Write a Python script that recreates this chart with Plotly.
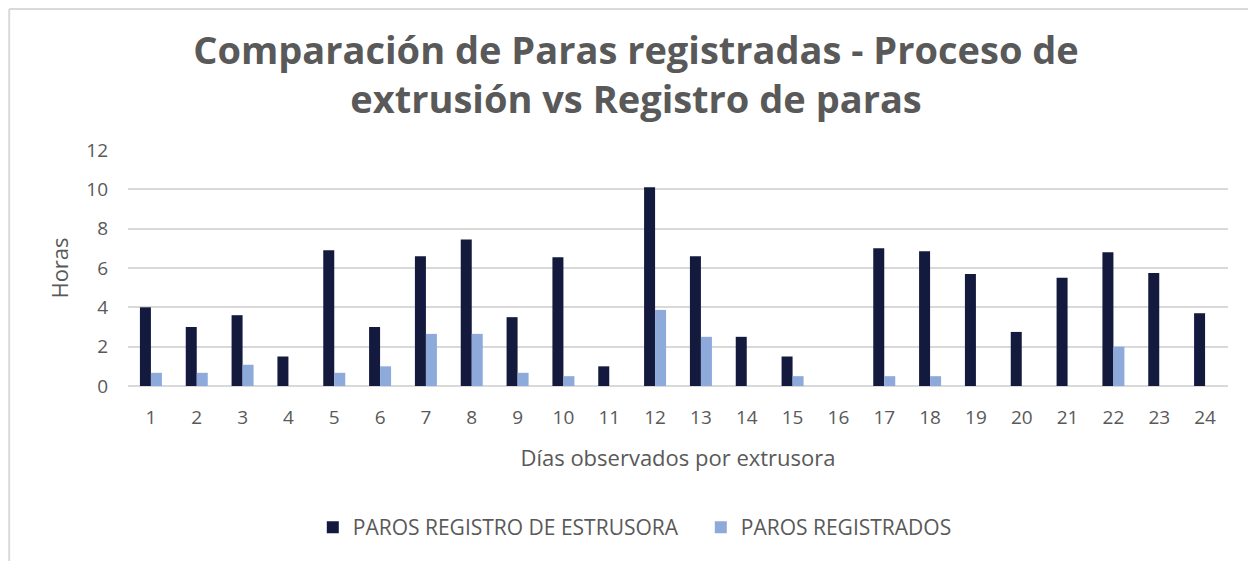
import plotly.graph_objects as go

# Datos
dias = [str(d) for d in range(1, 25)]
paros_extrusora = [4.0, 3.0, 3.6, 1.5, 6.9, 3.0, 6.6, 7.45, 3.5, 6.55, 1.0, 10.1,
                   6.6, 2.5, 1.5, 0, 7.0, 6.85, 5.7, 2.75, 5.5, 6.8, 5.75, 3.7]
paros_registrados = [0.67, 0.67, 1.08, 0, 0.67, 1.0, 2.65, 2.65, 0.67, 0.5, 0, 3.87,
                     2.5, 0, 0.5, 0, 0.5, 0.5, 0, 0, 0, 2.0, 0, 0]

gray = "#595959"
font_family = "Open Sans, Liberation Sans, sans-serif"

fig = go.Figure()

fig.add_trace(go.Bar(
    x=dias, y=paros_extrusora,
    name="PAROS REGISTRO DE ESTRUSORA",
    marker=dict(color="#131A3E", line=dict(width=0))
))
fig.add_trace(go.Bar(
    x=dias, y=paros_registrados,
    name="PAROS REGISTRADOS",
    marker=dict(color="#8EAADB", line=dict(width=0))
))

fig.update_layout(
    width=1256, height=561,
    paper_bgcolor="white", plot_bgcolor="white",
    barmode="group", bargap=0.52, bargroupgap=0,
    margin=dict(l=120, r=36, t=142, b=183, autoexpand=False),
    font=dict(family=font_family, color=gray, size=19),
    title=dict(
        text="<b>Comparación de Paras registradas - Proceso de<br>extrusión vs Registro de paras</b>",
        x=0.5, xanchor="center", y=0.901, yanchor="top",
        font=dict(size=38, color=gray, family=font_family)
    ),
    xaxis=dict(
        title=dict(text="Días observados por extrusora", font=dict(size=22), standoff=21),
        tickfont=dict(size=19), showgrid=False, showline=False, ticks="",
        ticklabelstandoff=18, automargin=False
    ),
    yaxis=dict(
        title=dict(text="Horas", font=dict(size=22), standoff=11),
        range=[0, 12], dtick=2, tickfont=dict(size=19),
        showgrid=True, gridcolor="#D9D9D9", gridwidth=1.5,
        zeroline=True, zerolinecolor="#D9D9D9", zerolinewidth=1.5,
        ticks="", ticklabelstandoff=19, automargin=False
    ),
    legend=dict(
        orientation="h", x=0.168, xanchor="left", y=-0.6, yanchor="middle",
        font=dict(size=21, color=gray), itemwidth=30, entrywidth=343
    ),
    showlegend=True,
)

# marco del gráfico (borde superior e izquierdo)
fig.add_shape(type="line", xref="paper", yref="paper", x0=-0.108, x1=1.04, y0=1.597, y1=1.597,
              line=dict(color="#D9D9D9", width=2))
fig.add_shape(type="line", xref="paper", yref="paper", x0=-0.108, x1=-0.108, y0=1.597, y1=-0.8,
              line=dict(color="#D9D9D9", width=2))

fig.write_html("out.html")
